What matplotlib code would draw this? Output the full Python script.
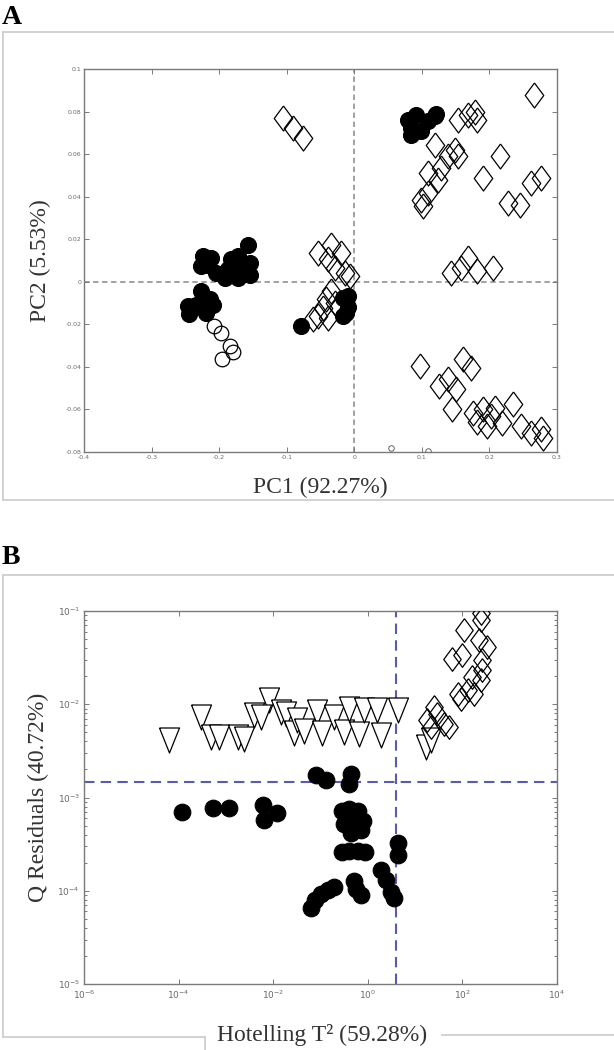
import numpy as np
import matplotlib
matplotlib.use("Agg")
import matplotlib.pyplot as plt
from matplotlib.lines import Line2D

# ---------------- Panel A data (PC1, PC2 scores) ----------------
filled_pc1 = [-0.224, -0.217, -0.204, -0.192, -0.182, -0.172, -0.157, -0.155, -0.155, -0.172,
              -0.187, -0.227, -0.212, -0.172, -0.246, -0.244, -0.227, -0.214, -0.209, -0.219,
              -0.234, -0.0785, -0.017, -0.010, -0.010, -0.017, -0.012,
              0.084, 0.092, 0.109, 0.121, 0.084, 0.099, 0.119, 0.0795]
filled_pc2 = [0.012, 0.008, 0.004, 0.002, 0.0105, 0.012, 0.0175, 0.009, 0.0034, 0.002,
              0.006, 0.0073, 0.011, 0.0073, -0.0115, -0.0153, -0.0044, -0.0083, -0.0107, -0.0146,
              -0.0107, -0.0208, -0.0075, -0.0065, -0.012, -0.016, -0.0145,
              0.0723, 0.0785, 0.0754, 0.079, 0.069, 0.0707, 0.0777, 0.076]

open_pc1 = [-0.208, -0.197, -0.184, -0.179, -0.196]
open_pc2 = [-0.021, -0.024, -0.030, -0.033, -0.0365]

small_pc1 = [0.054, 0.109]
small_pc2 = [-0.078, -0.0795]

diam_pc1 = [-0.1056, -0.091, -0.076,
            -0.054, -0.034, -0.039, -0.019, -0.029, -0.014, -0.007,
            -0.034, -0.0415, -0.046, -0.054, -0.061, -0.039, -0.029,
            0.266, 0.154, 0.168, 0.178, 0.181, 0.119, 0.149, 0.139, 0.154, 0.109, 0.129,
            0.124, 0.099, 0.109, 0.102, 0.191, 0.215, 0.228, 0.245, 0.262, 0.277,
            0.1437, 0.168, 0.158, 0.181, 0.205,
            0.097, 0.161, 0.173, 0.126, 0.139, 0.151, 0.144, 0.176, 0.191, 0.196, 0.208,
            0.218, 0.235, 0.247, 0.262, 0.277, 0.279, 0.203, 0.181]
diam_pc2 = [0.077, 0.0723, 0.0676,
            0.0136, 0.0175, 0.0105, 0.0136, 0.0066, 0.0042, 0.0026,
            -0.0044, -0.0083, -0.0122, -0.016, -0.0177, -0.0169, -0.0099,
            0.088, 0.0762, 0.0785, 0.080, 0.0762, 0.0645, 0.0621, 0.059, 0.059, 0.0512, 0.0535,
            0.048, 0.0386, 0.0418, 0.0355, 0.0488, 0.059, 0.037, 0.0363, 0.0465, 0.0488,
            0.0042, 0.0113, 0.0066, 0.005, 0.0066,
            -0.0396, -0.0365, -0.0404, -0.049, -0.0459, -0.0506, -0.060, -0.0615, -0.060, -0.0678,
            -0.0592, -0.0662, -0.0576, -0.0678, -0.0709, -0.0693, -0.0732, -0.063, -0.066]

a_xticks = [-0.4, -0.3, -0.2, -0.1, 0, 0.1, 0.2, 0.3]
a_xticklabels = ["-0.4", "-0.3", "-0.2", "-0.1", "0", "0.1", "0.2", "0.3"]
a_yticks = [-0.08, -0.06, -0.04, -0.02, 0, 0.02, 0.04, 0.06, 0.08, 0.1]
a_yticklabels = ["-0.08", "-0.06", "-0.04", "-0.02", "0", "0.02", "0.04", "0.06", "0.08", "0.1"]

# ---------------- Panel B data (log10 Hotelling T2, log10 Q residuals) ----------------
tri_logT2 = [-4.2, -3.53, -3.32, -3.15, -2.75, -2.61, -2.40, -2.09, -2.26, -1.84, -1.73, -1.56, -1.49,
             -1.35, -1.08, -0.96, -0.71, -0.50, -0.395, -0.184, -0.078, 0.205, 0.275, 0.628, 1.23, 1.33]
tri_logQ = [-2.386, -2.136, -2.35, -2.35, -2.35, -2.368, -2.118, -1.957, -2.136, -2.083, -2.10, -2.31, -2.165,
            -2.29, -2.08, -2.31, -2.136, -2.297, -2.046, -2.314, -2.064, -2.064, -2.33, -2.064, -2.458, -2.386]

dot_logT2 = [-3.92, -3.28, -2.93, -2.226, -2.19, -1.91,
             -1.10, -0.89, -0.36, -0.395,
             -0.55, -0.40, -0.20, -0.10, -0.50, -0.30, -0.15, -0.35,
             -0.55, -0.40, -0.20, -0.05, 0.628, 0.628,
             -1.20, -1.12, -1.00, -0.85, -0.72,
             -0.30, -0.25, -0.15,
             0.27, 0.38, 0.49, 0.56]
dot_logQ = [-3.16, -3.108, -3.108, -3.083, -3.244, -3.17,
            -2.76, -2.815, -2.743, -2.85,
            -3.15, -3.12, -3.15, -3.25, -3.28, -3.30, -3.35, -3.38,
            -3.58, -3.57, -3.57, -3.58, -3.49, -3.62,
            -4.19, -4.10, -4.04, -3.99, -3.96,
            -3.90, -3.98, -4.05,
            -3.78, -3.88, -4.01, -4.08]

dia_logT2 = [2.39, 2.39, 2.04, 2.53, 2.35, 1.79, 2.0, 2.42, 2.21, 2.39, 2.11, 2.25, 1.97,
             1.40, 1.47, 1.26, 1.61, 1.72, 1.33, 1.90, 2.42]
dia_logQ = [-1.02, -1.099, -1.206, -1.385, -1.314, -1.51, -1.47, -1.635, -1.707, -1.743, -1.85, -1.885, -1.94,
            -2.03, -2.10, -2.17, -2.207, -2.24, -2.24, -1.885, -1.528]

t2_limit = 4.0
q_limit = 1.46e-3

b_xticks = [1e-6, 1e-4, 1e-2, 1e0, 1e2, 1e4]
b_xticklabels = [r"$10^{-6}$", r"$10^{-4}$", r"$10^{-2}$", r"$10^{0}$", r"$10^{2}$", r"$10^{4}$"]
b_yticks = [1e-5, 1e-4, 1e-3, 1e-2, 1e-1]
b_yticklabels = [r"$10^{-5}$", r"$10^{-4}$", r"$10^{-3}$", r"$10^{-2}$", r"$10^{-1}$"]

# ---------------- styling ----------------
W, H = 614, 1050
fig = plt.figure(figsize=(W / 100, H / 100), dpi=100)
SERIF = ["Liberation Serif", "DejaVu Serif"]
SPINE = "#7a7a7a"
TICKC = "#6a6a6a"

diamond = [(0, 1), (0.74, 0), (0, -1), (-0.74, 0), (0, 1)]
tri_down = [(-0.8, 1), (0.8, 1), (0, -1), (-0.8, 1)]


def fx(px):
    return px / W


def fy(py):
    return 1 - py / H


# panel frames (light grey boxes)
frame_kw = dict(color="#cfcfcf", lw=1.3, transform=fig.transFigure, clip_on=False)
fig.add_artist(Line2D([fx(3), fx(614)], [fy(32), fy(32)], **frame_kw))
fig.add_artist(Line2D([fx(3), fx(3)], [fy(32), fy(500)], **frame_kw))
fig.add_artist(Line2D([fx(3), fx(614)], [fy(500), fy(500)], **frame_kw))
fig.add_artist(Line2D([fx(3), fx(614)], [fy(575), fy(575)], **frame_kw))
fig.add_artist(Line2D([fx(3), fx(3)], [fy(575), fy(1037)], **frame_kw))
fig.add_artist(Line2D([fx(3), fx(205)], [fy(1037), fy(1037)], **frame_kw))
fig.add_artist(Line2D([fx(205), fx(205)], [fy(1037), fy(1050)], **frame_kw))
fig.add_artist(Line2D([fx(442), fx(614)], [fy(1035), fy(1035)], **frame_kw))

fig.text(fx(2), fy(24), "A", family=SERIF, fontsize=20, fontweight="bold", ha="left", va="baseline")
fig.text(fx(2), fy(564), "B", family=SERIF, fontsize=20, fontweight="bold", ha="left", va="baseline")


def style_axes(ax):
    for s in ax.spines.values():
        s.set_color(SPINE)
        s.set_linewidth(1.0)
    ax.tick_params(which="both", direction="in", top=True, right=True, color=SPINE,
                   labelcolor=TICKC, width=0.7)
    ax.tick_params(which="major", length=3.5)
    ax.tick_params(which="minor", length=2)


# ---------------- Panel A ----------------
axA = fig.add_axes([fx(84), fy(452), fx(557) - fx(84), fy(69) - fy(452)])
style_axes(axA)
axA.set_xlim(-0.4, 0.3)
axA.set_ylim(-0.08, 0.1)
axA.axhline(0, color="#9a9a9a", lw=1.3, ls=(0, (3, 2)), zorder=1)
axA.axvline(0, color="#9a9a9a", lw=1.3, ls=(0, (3, 2)), zorder=1)
axA.plot(diam_pc1, diam_pc2, ls="none", marker=diamond, ms=18, mfc="none", mec="black", mew=0.9, zorder=3)
axA.plot(filled_pc1, filled_pc2, ls="none", marker="o", ms=11.5, mfc="black", mec="black", mew=0.8, zorder=2)
axA.plot(open_pc1, open_pc2, ls="none", marker="o", ms=10.5, mfc="none", mec="black", mew=0.9, zorder=3)
axA.plot(small_pc1, small_pc2, ls="none", marker="o", ms=4, mfc="none", mec="#666666", mew=0.7, zorder=3)
axA.set_xticks(a_xticks)
axA.set_xticklabels(a_xticklabels, fontsize=4.5, family="DejaVu Sans")
axA.set_yticks(a_yticks)
axA.set_yticklabels(a_yticklabels, fontsize=4.5, family="DejaVu Sans")
axA.tick_params(axis="both", pad=2)
axA.set_xlabel("PC1 (92.27%)", family=SERIF, fontsize=17, color="#333333", labelpad=12)
axA.set_ylabel("PC2 (5.53%)", family=SERIF, fontsize=17, color="#333333", labelpad=10)

# ---------------- Panel B ----------------
axB = fig.add_axes([fx(84), fy(984), fx(557) - fx(84), fy(611) - fy(984)])
style_axes(axB)
axB.set_xscale("log")
axB.set_yscale("log")
axB.set_xlim(1e-6, 1e4)
axB.set_ylim(1e-5, 1e-1)
axB.axhline(q_limit, color="#5a5aae", lw=1.5, ls=(0, (5, 3)), zorder=1)
axB.axvline(t2_limit, color="#5a5aae", lw=1.5, ls=(0, (5, 3)), zorder=1)
axB.plot(np.power(10.0, tri_logT2), np.power(10.0, tri_logQ), ls="none", marker=tri_down, ms=18,
         mfc="white", mec="black", mew=0.9, zorder=3)
axB.plot(np.power(10.0, dot_logT2), np.power(10.0, dot_logQ), ls="none", marker="o", ms=12,
         mfc="black", mec="black", mew=0.8, zorder=2)
axB.plot(np.power(10.0, dia_logT2), np.power(10.0, dia_logQ), ls="none", marker=diamond, ms=17,
         mfc="none", mec="black", mew=0.9, zorder=3)
axB.set_xticks(b_xticks)
axB.set_xticklabels(b_xticklabels, fontsize=6.5)
axB.xaxis.set_minor_locator(matplotlib.ticker.NullLocator())
axB.set_yticks(b_yticks)
axB.set_yticklabels(b_yticklabels, fontsize=6.5)
axB.yaxis.set_minor_locator(matplotlib.ticker.LogLocator(base=10, subs=np.arange(2, 10)))
axB.yaxis.set_minor_formatter(matplotlib.ticker.NullFormatter())
axB.tick_params(axis="both", pad=3)
axB.set_ylabel("Q Residuals (40.72%)", family=SERIF, fontsize=17, color="#333333", labelpad=6)
fig.text(fx(322), fy(1041), "Hotelling T² (59.28%)", family=SERIF, fontsize=17, color="#333333",
         ha="center", va="baseline")

fig.savefig("out.png", dpi=100)
